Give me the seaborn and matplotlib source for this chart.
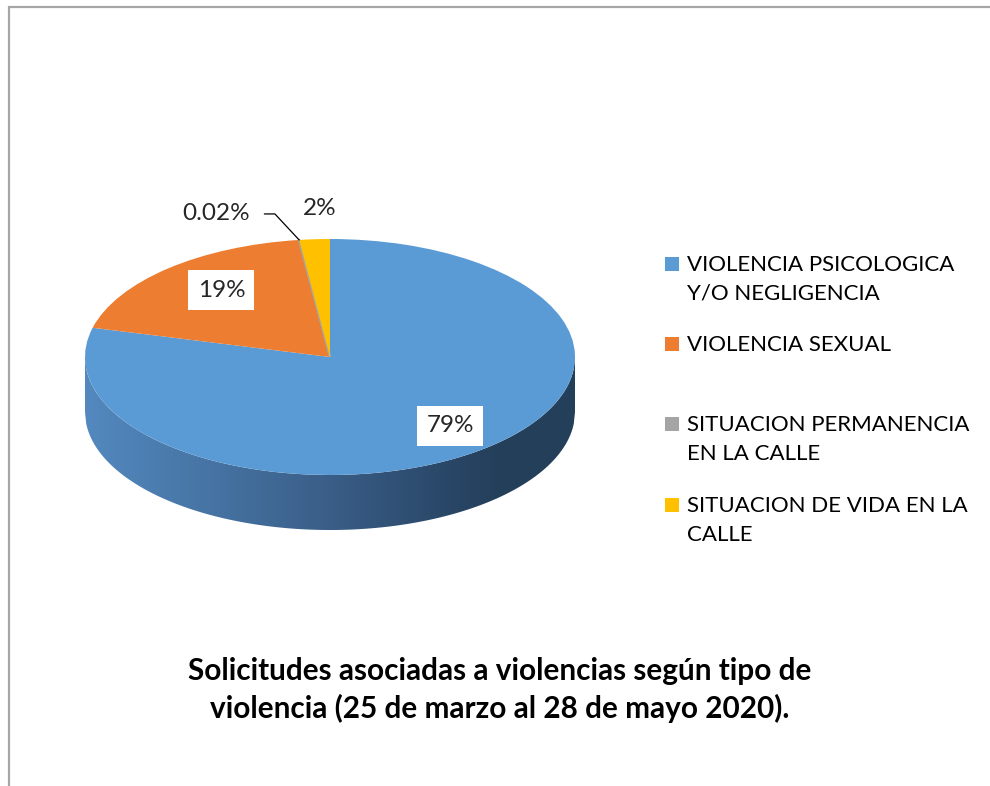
import numpy as np
import matplotlib
matplotlib.use("Agg")
import matplotlib.pyplot as plt
import seaborn as sns
from matplotlib.colors import LinearSegmentedColormap
from matplotlib.lines import Line2D
from matplotlib.patches import Rectangle

# datos del grafico
categorias = ["VIOLENCIA PSICOLOGICA\nY/O NEGLIGENCIA",
              "VIOLENCIA SEXUAL",
              "SITUACION PERMANENCIA\nEN LA CALLE",
              "SITUACION DE VIDA EN LA\nCALLE"]
porcentajes = [79, 19, 0.02, 2]
etiquetas = ["79%", "19%", "0.02%", "2%"]
colores = sns.color_palette(["#5B9BD5", "#ED7D31", "#A5A5A5", "#FFC000"])
titulo = "Solicitudes asociadas a violencias según tipo de\nviolencia (25 de marzo al 28 de mayo 2020)."

sns.set_theme(style="white")
plt.rcParams["font.family"] = ["Lato", "DejaVu Sans"]

W, H = 990, 786
fig = plt.figure(figsize=(W / 100, H / 100), dpi=100)
fig.patch.set_facecolor("white")

# marco gris del area del grafico (solo arriba y a la izquierda)
fig.add_artist(Line2D([9 / W, 1], [1 - 7 / H, 1 - 7 / H], transform=fig.transFigure,
                      color="#A6A6A6", lw=1.6))
fig.add_artist(Line2D([9 / W, 9 / W], [0, 1 - 7 / H], transform=fig.transFigure,
                      color="#A6A6A6", lw=1.6))

###### pastel "3D": elipse + pared con degradado ######
cx, cy, a, b = 330, 357, 245, 118      # centro y semiejes en pixeles
xlim, ylim = (-1.1, 1.1), (-1.6, 1.5)
left, right = cx + xlim[0] * a, cx + xlim[1] * a
top, bottom = cy - ylim[1] * b, cy - ylim[0] * b
ax = fig.add_axes([left / W, 1 - bottom / H, (right - left) / W, (bottom - top) / H])

wedges, _ = ax.pie(porcentajes, colors=colores, startangle=90, counterclock=False,
                   wedgeprops=dict(linewidth=0), radius=1)
for w in wedges:
    w.set_zorder(2)
wedges[2].set_edgecolor(colores[2])
wedges[2].set_linewidth(1.5)

prof = 55 / b
xs = np.linspace(-1, 1, 400)
arco = -np.sqrt(1 - xs ** 2)
pared = ax.fill_between(xs, arco, arco - prof, color="none", lw=0)
cmap = LinearSegmentedColormap.from_list(
    "pared", [(0, "#5389BF"), (0.25, "#4674A4"), (0.5, "#3A5E87"),
              (0.75, "#294666"), (0.85, "#243F5A"), (1, "#243F5A")])
im = ax.imshow(np.linspace(0, 1, 256)[None, :], cmap=cmap, aspect="auto",
               extent=[-1, 1, -1 - prof, 0], interpolation="bilinear", zorder=1)
im.set_clip_path(pared.get_paths()[0], ax.transData)

ax.set_aspect("auto")
ax.set_xlim(xlim)
ax.set_ylim(ylim)
ax.axis("off")

# etiquetas de porcentaje
dist = [0.74, 0.70, 1.0, 1.2]
desplaz = [(9, 0), (5, 5), (-83, 26), (8, 7)]
for i, w in enumerate(wedges):
    th = np.deg2rad((w.theta1 + w.theta2) / 2)
    x, y = dist[i] * np.cos(th), dist[i] * np.sin(th)
    kw = dict(xy=(x, y), xytext=desplaz[i], textcoords="offset pixels",
              ha="center", va="center", fontsize=17.5, zorder=5)
    if i < 2:
        kw["bbox"] = dict(boxstyle="square,pad=0.38", fc="white", ec="none")
    if i == 2:
        kw["arrowprops"] = dict(arrowstyle="-", color="black", lw=0.9, relpos=(1, 0.5),
                                shrinkA=8, shrinkB=0,
                                connectionstyle="angle,angleA=0,angleB=133,rad=0")
    ax.annotate(etiquetas[i], **kw)

###### leyenda ######
fila_y = [264, 344, 424, 505]
for cat, col, yy in zip(categorias, colores, fila_y):
    fig.add_artist(Rectangle((665 / W, 1 - (yy + 7) / H), 14 / W, 14 / H,
                             transform=fig.transFigure, color=col, lw=0))
    fig.text(687 / W, 1 - (yy - 9) / H, cat, ha="left", va="top", fontsize=16,
             linespacing=1.55, color="black")

fig.text(499.5 / W, 1 - 690 / H, titulo, ha="center", va="center", fontsize=21.4,
         fontweight="bold", linespacing=1.38, color="black")

fig.savefig("out.png", dpi=100, facecolor="white")
